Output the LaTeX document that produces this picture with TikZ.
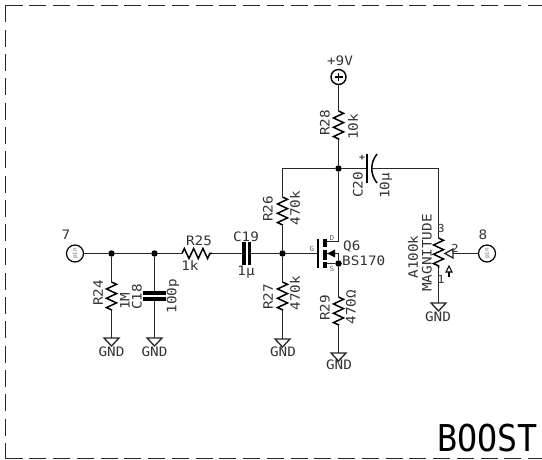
\documentclass[tikz,border=0pt]{standalone}
\usepackage{fontspec}
\setmainfont[FakeStretch=1.1]{DejaVu Sans Mono}
\usetikzlibrary{decorations.pathmorphing,calc}
\tikzset{
  wire/.style={line width=1.2pt,draw=black!85},
  resbody/.style={line width=1.5pt,draw=black,decorate,decoration={zigzag,amplitude=5pt,segment length=9.3pt}},
  lbl/.style={inner sep=0pt,font=\fontsize{13}{13}\selectfont,text=black!80},
  vlbl/.style={lbl,rotate=90},
  tiny/.style={inner sep=0pt,font=\fontsize{7}{7}\selectfont,text=black!60},
  dot/.style={circle,fill=black,inner sep=0pt,minimum size=6.5pt},
  pinnode/.style={circle,draw=black,line width=1.2pt,fill=white,inner sep=0pt,minimum size=17pt},
  gndtri/.style={line width=1.3pt,draw=black!85},
  plate/.style={line width=3.6pt,draw=black},
  frame/.style={line width=1.1pt,black!85},
}
\newcommand{\gndsym}[1]{\draw[gndtri] ($(#1)+(-7.5,0)$) -- ($(#1)+(7.5,0)$) -- ($(#1)+(0,8)$) -- cycle;}
\begin{document}
\begin{tikzpicture}[x=1pt,y=-1pt]
\useasboundingbox (0,0) rectangle (542,460);
% frame
\coordinate (fa) at (5.5,5.5); \coordinate (fb) at (542,5.5);
\coordinate (fc) at (542,458.5); \coordinate (fd) at (5.5,458.5);
\draw[frame,dash pattern=on 17pt off 6.76pt] (fa) -- (fb);
\draw[frame,dash pattern=on 17pt off 6.76pt] (fd) -- (fc);
\draw[frame,dash pattern=on 17pt off 7.3pt] (fa) -- (fd);
% pins
\node[pinnode] (p7) at (75,253.5) {};
\node[tiny,font=\fontsize{5.5}{6}\selectfont,rotate=90] at (p7) {pin};
\node[pinnode] (p8) at (487,253.5) {};
\node[tiny,font=\fontsize{5.5}{6}\selectfont,rotate=90] at (p8) {pin};
\node[lbl] (t7) at (66,235) {7};
\node[lbl] (t8) at (483,235) {8};
% junctions
\node[dot] (j1) at (111.5,253.5) {};
\node[dot] (j2) at (154.5,253.5) {};
\node[dot] (j3) at (282.5,253.5) {};
\node[dot] (j4) at (338.5,168.5) {};
\node[dot] (j5) at (338.5,263.5) {};
% coordinates
\coordinate (r24a) at (111.5,282); \coordinate (r24b) at (111.5,310); \coordinate (g24) at (111.5,338);
\coordinate (c18a) at (154.5,293); \coordinate (c18b) at (154.5,299); \coordinate (g18) at (154.5,338);
\coordinate (r25a) at (182,253.5); \coordinate (r25b) at (212,253.5);
\coordinate (c19a) at (244,253.5); \coordinate (c19b) at (249.5,253.5);
\coordinate (r26a) at (282.5,197); \coordinate (r26b) at (282.5,225); \coordinate (t26) at (282.5,168.5);
\coordinate (r27a) at (282.5,282); \coordinate (r27b) at (282.5,310); \coordinate (g27) at (282.5,339);
\coordinate (gate) at (318,253.5);
\coordinate (dr) at (338.5,241.5); \coordinate (mid) at (338.5,253.5);
\coordinate (chd) at (325,241.5); \coordinate (chm) at (325,253.5); \coordinate (chs) at (325,263.5);
\coordinate (r29a) at (338.5,297); \coordinate (r29b) at (338.5,325); \coordinate (g29) at (338.5,353);
\coordinate (r28a) at (338.5,111); \coordinate (r28b) at (338.5,140);
\coordinate (c20a) at (367,168.5); \coordinate (c20b) at (372,168.5);
\coordinate (tr) at (438.5,168.5);
\coordinate (pa) at (438.5,238); \coordinate (pb) at (438.5,268); \coordinate (g3) at (438.5,303);
\coordinate (wip) at (445,253.5); \coordinate (wipb) at (453,253.5);
% +9V
\node[circle,draw=black,line width=1.4pt,inner sep=0pt,minimum size=15pt] (vcc) at (338.5,77) {};
\draw[line width=1.1pt] ($(vcc)+(-4,0)$) -- ($(vcc)+(4,0)$) ($(vcc)+(0,-4)$) -- ($(vcc)+(0,4)$);
\node[lbl] (tvcc) at (340,61) {+9V};
% wires
\draw[wire] (p7) -- (j1) -- (j2) -- (r25a);
\draw[wire] (j1) -- (r24a); \draw[wire] (r24b) -- (g24);
\draw[wire] (j2) -- (c18a); \draw[wire] (c18b) -- (g18);
\draw[wire] (r25b) -- (c19a); \draw[wire] (c19b) -- (j3) -- (gate);
\draw[wire] (j3) -- (r26b); \draw[wire] (r26a) -- (t26) -- (j4);
\draw[wire] (j3) -- (r27a); \draw[wire] (r27b) -- (g27);
\draw[wire] (vcc) -- (r28a); \draw[wire] (r28b) -- (j4) -- (dr) -- (chd);
\draw[wire] (j4) -- (c20a); \draw[wire] (c20b) -- (tr) -- (pa);
\draw[wire] (chm) -- (mid) -- (j5) -- (chs);
\draw[wire] (j5) -- (r29a); \draw[wire] (r29b) -- (g29);
\draw[wire] (pb) -- (g3); \draw[wire] (wipb) -- (p8);
% resistors
\draw[resbody] (r24a) -- (r24b);
\draw[resbody] (r25a) -- (r25b);
\draw[resbody] (r26a) -- (r26b);
\draw[resbody] (r27a) -- (r27b);
\draw[resbody] (r28a) -- (r28b);
\draw[resbody] (r29a) -- (r29b);
\draw[resbody] (pa) -- (pb);
% capacitors
\draw[plate] (143,293) -- (166,293);
\draw[plate] (143,299) -- (166,299);
\draw[plate] (244,242) -- (244,265);
\draw[plate] (249.5,242) -- (249.5,265);
\draw[line width=1.5pt] (367,154) -- (367,183);
\draw[line width=1.5pt] (377,154) .. controls (370,163) and (370,174) .. (377,183);
% MOSFET
\draw[line width=1.4pt] (318,239) -- (318,268);
\draw[line width=4.5pt] (325,239) -- (325,247);
\draw[line width=4.5pt] (325,250) -- (325,260);
\draw[line width=4.5pt] (325,262) -- (325,268);
\fill (327,253.5) -- (335,249.5) -- (335,257.5) -- cycle;
% ground symbols
\gndsym{g24} \gndsym{g18} \gndsym{g27} \gndsym{g29} \gndsym{g3}
% wiper
\draw[gndtri] (wip) -- ++(8,-4.5) -- ++(0,9) -- cycle;
% adjust arrow
\draw[line width=1.1pt] (449,277) -- (449,272);
\draw[line width=1.1pt] (449,266) -- (446,272) -- (452,272) -- cycle;
% labels
\node[lbl] at (199,241) {R25};
\node[lbl] at (190,266) {1k};
\node[lbl] at (246,237) {C19};
\node[lbl] at (246,272) {1µ};
\node[vlbl] at (98,293) {R24};
\node[vlbl] at (125,301) {1M};
\node[vlbl] at (137,297) {C18};
\node[vlbl] at (173,296) {100p};
\node[lbl] at (111.5,352) {GND};
\node[lbl] at (154.5,352) {GND};
\node[lbl] at (283,352) {GND};
\node[lbl] at (339,365) {GND};
\node[lbl] at (438,317) {GND};
\node[vlbl] at (268,209) {R26};
\node[vlbl] at (295,208) {470k};
\node[vlbl] at (268,297) {R27};
\node[vlbl] at (295,293) {470k};
\node[vlbl] at (325,308) {R29};
\node[vlbl] at (351,307) {470Ω};
\node[vlbl] at (325,123) {R28};
\node[vlbl] at (353,127) {10k};
\node[vlbl] at (358,185) {C20};
\node[vlbl] at (386,186) {10µ};
\node[lbl,font=\fontsize{9}{9}\selectfont\bfseries] at (362,158) {+};
\node[lbl,anchor=west] at (343,247) {Q6};
\node[lbl,anchor=west] at (342,261) {BS170};
\node[tiny] at (332,238) {D};
\node[tiny] at (332,269) {S};
\node[tiny] at (312,249) {G};
\node[vlbl] at (413,257) {A100k};
\node[vlbl] at (427,253) {MAGNITUDE};
\node[lbl,font=\fontsize{11}{11}\selectfont] at (441,228) {3};
\node[lbl,font=\fontsize{11}{11}\selectfont] at (455,248) {2};
\node[lbl,font=\fontsize{11}{11}\selectfont] at (441,279) {1};
\node[lbl,font=\fontsize{37}{37}\selectfont,xscale=0.82,text=black] at (487.5,438.5) {BOOST};
\end{tikzpicture}
\end{document}
